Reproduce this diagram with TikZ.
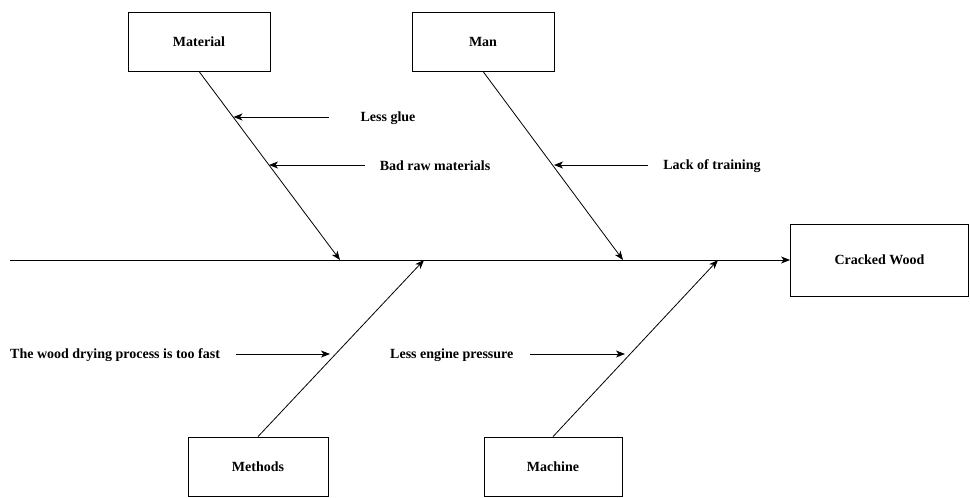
\documentclass[tikz,border=0pt]{standalone}
\usepackage{fontspec}
\setmainfont{Liberation Serif}
\usetikzlibrary{arrows.meta}

\tikzset{
  catbox/.style={draw, line width=0.8pt, inner sep=0pt, font=\bfseries\fontsize{14}{16}\selectfont},
  cause/.style={font=\bfseries\fontsize{14}{16}\selectfont, inner sep=0pt},
  bone/.style={line width=0.8pt, -{Stealth[length=9pt,width=7pt,inset=2.5pt]}}
}

\begin{document}
\begin{tikzpicture}[x=1pt, y=-1pt]
  \useasboundingbox (0,0) rectangle (970,498);

  % --- categories ---
  \node[catbox, minimum width=142pt, minimum height=59pt] (material) at (199,41.5) {Material};
  \node[catbox, minimum width=142pt, minimum height=59pt] (man) at (483,41.5) {Man};
  \node[catbox, minimum width=140pt, minimum height=59pt] (methods) at (258,466.5) {Methods};
  \node[catbox, minimum width=138pt, minimum height=59pt] (machine) at (553,466.5) {Machine};

  % --- effect ---
  \node[catbox, minimum width=178pt, minimum height=72pt] (effect) at (879.5,260) {Cracked Wood};

  % --- spine ---
  \coordinate (tail) at (10,260);
  \draw[bone] (tail) -- (effect.west);

  % --- bones ---
  \coordinate (matend) at (340,260);
  \coordinate (manend) at (623,260);
  \coordinate (metend) at (424,260);
  \coordinate (macend) at (718,260);
  \draw[bone] (material.south) -- (matend);
  \draw[bone] (man.south) -- (manend);
  \draw[bone] (methods.north) -- (metend);
  \draw[bone] (machine.north) -- (macend);

  % --- causes ---
  \node[cause] (glue) at (388,118) {Less glue};
  \coordinate (gluefrom) at (329,117);
  \coordinate (glueto) at (233.5,117);
  \draw[bone] (gluefrom) -- (glueto);

  \node[cause] (raw) at (435,166) {Bad raw materials};
  \coordinate (rawfrom) at (365,165);
  \coordinate (rawto) at (269,165);
  \draw[bone] (rawfrom) -- (rawto);

  \node[cause] (training) at (712,166) {Lack of training};
  \coordinate (trainfrom) at (648,165);
  \coordinate (trainto) at (554,165);
  \draw[bone] (trainfrom) -- (trainto);

  \node[cause, anchor=west] (drying) at (10,355) {The wood drying process is too fast};
  \coordinate (dryfrom) at (236,354);
  \coordinate (dryto) at (330,354);
  \draw[bone] (dryfrom) -- (dryto);

  \node[cause, anchor=west] (engine) at (390,355) {Less engine pressure};
  \coordinate (engfrom) at (530,354);
  \coordinate (engto) at (625,354);
  \draw[bone] (engfrom) -- (engto);

\end{tikzpicture}
\end{document}
